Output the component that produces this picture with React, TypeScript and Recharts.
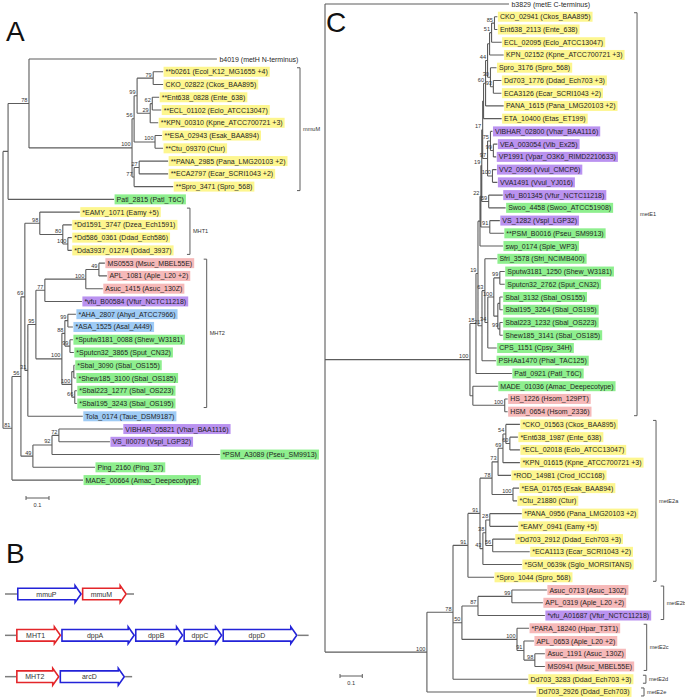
import { ComposedChart, Line, Scatter, XAxis, YAxis, BarChart, Bar } from 'recharts';

const FONT = '"Liberation Sans", Arial, Helvetica, sans-serif';
const PAGE_W = 685;
const PAGE_H = 699;
const LABEL_SIZE = 7;
const SMALL_SIZE = 5.6;
const LINE_COLOR = '#5c5c5c';

const HIGHLIGHT: Record<string, string> = {
  ent: '#fdf68f',
  vib: '#ba92f0',
  alt: '#8eef8e',
  pas: '#f6b9b9',
  aer: '#9ecbf5',
};

// ---------- panel A: MMT / MHT phylogeny (Newick, bootstrap as node labels) ----------
const mmuMClade =
  '((((b0261:0.043,CKO_02822:0.043)79:0.070,((Ent638_0828:0.030,ECL_01102:0.039)62:0.009,KPN_00310:0.035)29:0.057)99:0.013,(ESA_02943:0.030,Ctu_09370:0.035)100:0.091)56:0.009,((PANA_2985:0.126,ECA2797:0.126)27:0.022,Spro_3471:0.170)77:0.009)100:0.448';
const mht1Clade =
  '(EAMY_1071:0.174,(Dd1591_3747:0.039,(Dd586_0361:0.017,Dda3937_01274:0.017)100:0.022)80:0.100)98:0.065';
const mht2Pasteur =
  '(((MS0553:0.026,APL_1081:0.035)49:0.057,Asuc_1415:0.074)100:0.178,vfu_B00584:0.161)77:0.039';
const mht2Shew =
  '(((AHA_2807:0.035,ASA_1525:0.022)99:0.013,(Sputw3181_0088:0.013,Sputcn32_3865:0.017)99:0.022)88:0.013,((Sbal_3090:0.004,Shew185_3100:0.009):0.009,(Sbal223_1277:0.009,Sbal195_3243:0.009)66:0.013)100:0.043)100:0.113';
const vibrioA =
  '(((VIBHAR_05821:0.278,VS_II0079:0.222)72:0.030,PSM_A3089:0.730)92:0.083,Ping_2160:0.270)49:0.052';
const treeA = `(((b4019:0.817,${mmuMClade})78:0.091,Patl_2815:0.461):0.022,(((${mht1Clade},((${mht2Pasteur},${mht2Shew})95:0.035,Tola_0174:0.239)31:0.013)69:0.017,${vibrioA})56:0.039,MADE_00664:0.309)81:0.039);`;

const labelsA = [
  'b4019 (metH N-terminus)',
  '**b0261 (Ecol_K12_MG1655 +4)',
  'CKO_02822 (Ckos_BAA895)',
  '**Ent638_0828 (Ente_638)',
  '**ECL_01102 (Eclo_ATCC13047)',
  '**KPN_00310 (Kpne_ATCC700721 +3)',
  '**ESA_02943 (Esak_BAA894)',
  '**Ctu_09370 (Ctur)',
  '**PANA_2985 (Pana_LMG20103 +2)',
  '**ECA2797 (Ecar_SCRI1043 +2)',
  '**Spro_3471 (Spro_568)',
  'Patl_2815 (Patl_T6C)',
  '*EAMY_1071 (Eamy +5)',
  '*Dd1591_3747 (Dzea_Ech1591)',
  '*Dd586_0361 (Ddad_Ech586)',
  '*Dda3937_01274 (Ddad_3937)',
  'MS0553 (Msuc_MBEL55E)',
  'APL_1081 (Aple_L20 +2)',
  'Asuc_1415 (Asuc_130Z)',
  '*vfu_B00584 (Vfur_NCTC11218)',
  '*AHA_2807 (Ahyd_ATCC7966)',
  '*ASA_1525 (Asal_A449)',
  '*Sputw3181_0088 (Shew_W3181)',
  '*Sputcn32_3865 (Sput_CN32)',
  '*Sbal_3090 (Sbal_OS155)',
  '*Shew185_3100 (Sbal_OS185)',
  '*Sbal223_1277 (Sbal_OS223)',
  '*Sbal195_3243 (Sbal_OS195)',
  'Tola_0174 (Taue_DSM9187)',
  'VIBHAR_05821 (Vhar_BAA1116)',
  'VS_II0079 (Vspl_LGP32)',
  '*PSM_A3089 (Pseu_SM9913)',
  'Ping_2160 (Ping_37)',
  'MADE_00664 (Amac_Deepecotype)',
];
const groupsA = [
  '', 'ent', 'ent', 'ent', 'ent', 'ent', 'ent', 'ent', 'ent', 'ent', 'ent', 'alt',
  'ent', 'ent', 'ent', 'ent', 'pas', 'pas', 'pas', 'vib', 'aer', 'aer',
  'alt', 'alt', 'alt', 'alt', 'alt', 'alt', 'aer', 'vib', 'vib', 'alt', 'alt', 'alt',
];
const cladesA: [string, string, string][] = [
  ['mmuM', 'b0261', 'Spro_3471'],
  ['MHT1', 'EAMY_1071', 'Dda3937_01274'],
  ['MHT2', 'MS0553', 'Sbal195_3243'],
];

// ---------- panel C: MetE phylogeny ----------
const metE1Entero =
  '((((((CKO_02941:0.013,Ent638_2113:0.013)85:0.013,ECL_02095:0.045)51:0.009,KPN_02152:0.063):0.009,(Spro_3176:0.027,(Dd703_1776:0.036,ECA3126:0.036)93:0.013)30:0.013)44:0.009,PANA_1615:0.081)60:0.009,ETA_10400:0.081):0.004';
const metE1Vibrio =
  '((VIBHAR_02800:0.009,(VEA_003054:0.018,VP1991:0.013)99:0.013)75:0.013,(VV2_0996:0.018,VVA1491:0.022)100:0.022)97:0.022';
const metE1Shew =
  '(Sfri_3578:0.054,(((Sputw3181_1250:0.022,Sputcn32_2762:0.022)99:0.027,((Sbal_3132:0.013,Sbal195_3264:0.013):0.009,(Sbal223_1232:0.013,Shew185_3141:0.013)99:0.009):0.018)100:0.027,CPS_1151:0.040)34:0.013)63:0.013';
const metE1Vib2 = `((((${metE1Entero},${metE1Vibrio})17:0.004,(vfu_B01345:0.063,Swoo_4458:0.076)59:0.031)19:0.004,(VS_1282:0.045,PSM_B0016:0.063)91:0.040)22:0.004,swp_0174:0.103):0.009`;
const metE1 = `((((${metE1Vib2},(${metE1Shew},PSHAa1470:0.063)21:0.018)19:0.009,Patl_0921:0.161)18:0.027,(MADE_01036:0.112,(HS_1226:0.013,HSM_0654:0.013)100:0.143):0.013)100:0.498`;
const metE2aEntero =
  '((((CKO_01563:0.063,(Ent638_1987:0.036,ECL_02018:0.045)60:0.018)54:0.013,KPN_01615:0.076)69:0.022,ROD_14981:0.058)73:0.027,(ESA_01765:0.027,Ctu_21880:0.018)100:0.094)78:0.054';
const metE2aErwin =
  '(((PANA_0956:0.143,EAMY_0941:0.126)28:0.018,(Dd703_2912:0.099,ECA1113:0.166)56:0.031)38:0.013,SGM_0639k:0.175)43:0.013';
const metE2b = '((Asuc_0713:0.157,APL_0319:0.139)99:0.152,vfu_A01687:0.300)87:0.072';
const metE2c =
  '(PARA_18240:0.054,(APL_0653:0.045,(Asuc_1191:0.045,MS0941:0.045)98:0.049)91:0.031)100:0.247';
const metE2 = `((((${metE2aEntero},${metE2aErwin})91:0.054,Spro_1044:0.117)91:0.067,(${metE2b},${metE2c})50:0.040,Dd703_3283:0.336)78:0.117,Dd703_2926:0.489)100:0.457`;
const treeC = `((b3829:0.825,${metE1}):0.152,${metE2});`;

const labelsC = [
  'b3829 (metE C-terminus)',
  'CKO_02941 (Ckos_BAA895)',
  'Ent638_2113 (Ente_638)',
  'ECL_02095 (Eclo_ATCC13047)',
  'KPN_02152 (Kpne_ATCC700721 +3)',
  'Spro_3176 (Spro_568)',
  'Dd703_1776 (Ddad_Ech703 +3)',
  'ECA3126 (Ecar_SCRI1043 +2)',
  'PANA_1615 (Pana_LMG20103 +2)',
  'ETA_10400 (Etas_ET199)',
  'VIBHAR_02800 (Vhar_BAA1116)',
  'VEA_003054 (Vib_Ex25)',
  'VP1991 (Vpar_O3K6_RIMD2210633)',
  'VV2_0996 (Vvul_CMCP6)',
  'VVA1491 (Vvul_YJ016)',
  'vfu_B01345 (Vfur_NCTC11218)',
  'Swoo_4458 (Swoo_ATCC51908)',
  'VS_1282 (Vspl_LGP32)',
  '**PSM_B0016 (Pseu_SM9913)',
  'swp_0174 (Sple_WP3)',
  'Sfri_3578 (Sfri_NCIMB400)',
  'Sputw3181_1250 (Shew_W3181)',
  'Sputcn32_2762 (Sput_CN32)',
  'Sbal_3132 (Sbal_OS155)',
  'Sbal195_3264 (Sbal_OS195)',
  'Sbal223_1232 (Sbal_OS223)',
  'Shew185_3141 (Sbal_OS185)',
  'CPS_1151 (Cpsy_34H)',
  'PSHAa1470 (Phal_TAC125)',
  'Patl_0921 (Patl_T6C)',
  'MADE_01036 (Amac_Deepecotype)',
  'HS_1226 (Hsom_129PT)',
  'HSM_0654 (Hsom_2336)',
  '*CKO_01563 (Ckos_BAA895)',
  '*Ent638_1987 (Ente_638)',
  '*ECL_02018 (Eclo_ATCC13047)',
  '*KPN_01615 (Kpne_ATCC700721 +3)',
  '*ROD_14981 (Crod_ICC168)',
  '*ESA_01765 (Esak_BAA894)',
  '*Ctu_21880 (Ctur)',
  '*PANA_0956 (Pana_LMG20103 +2)',
  '*EAMY_0941 (Eamy +5)',
  '*Dd703_2912 (Ddad_Ech703 +3)',
  '*ECA1113 (Ecar_SCRI1043 +2)',
  '*SGM_0639k (Sglo_MORSITANS)',
  '*Spro_1044 (Spro_568)',
  'Asuc_0713 (Asuc_130Z)',
  'APL_0319 (Aple_L20 +2)',
  '*vfu_A01687 (Vfur_NCTC11218)',
  '*PARA_18240 (Hpar_T3T1)',
  'APL_0653 (Aple_L20 +2)',
  'Asuc_1191 (Asuc_130Z)',
  'MS0941 (Msuc_MBEL55E)',
  'Dd703_3283 (Ddad_Ech703 +3)',
  'Dd703_2926 (Ddad_Ech703)',
];
const groupsC = [
  '', 'ent', 'ent', 'ent', 'ent', 'ent', 'ent', 'ent', 'ent', 'ent',
  'vib', 'vib', 'vib', 'vib', 'vib', 'vib', 'alt', 'vib',
  'alt', 'alt', 'alt', 'alt', 'alt', 'alt', 'alt', 'alt', 'alt', 'alt', 'alt', 'alt', 'alt',
  'pas', 'pas',
  'ent', 'ent', 'ent', 'ent', 'ent', 'ent', 'ent', 'ent', 'ent', 'ent', 'ent', 'ent', 'ent',
  'pas', 'pas', 'vib', 'pas', 'pas', 'pas', 'pas', 'ent', 'ent',
];
const cladesC: [string, string, string][] = [
  ['metE1', 'CKO_02941', 'HSM_0654'],
  ['metE2a', 'CKO_01563', 'Spro_1044'],
  ['metE2b', 'Asuc_0713', 'vfu_A01687'],
  ['metE2c', 'PARA_18240', 'MS0941'],
  ['metE2d', 'Dd703_3283', 'Dd703_3283'],
  ['metE2e', 'Dd703_2926', 'Dd703_2926'],
];

// ---------- panel B: gene neighbourhoods (bp) ----------
const operonNames = ['mmuPM', 'MHT1-dpp', 'MHT2-arcD'];
const geneNames = [['mmuP', 'mmuM'], ['MHT1', 'dppA', 'dppB', 'dppC', 'dppD'], ['MHT2', 'arcD']];
const geneBp = [[1380, 960], [960, 1570, 1030, 830, 1600], [925, 1395]];
const flankBp = [[255, 150], [235, 235], [235, 150]];
const methyltransferases = ['mmuM', 'MHT1', 'MHT2'];

// ---------- helpers ----------
interface TNode { name: string; len: number; children: TNode[] }

function parseNewick(src: string): TNode {
  let i = 0;
  const read = (): TNode => {
    const node: TNode = { name: '', len: 0, children: [] };
    if (src[i] === '(') {
      i++;
      node.children.push(read());
      while (src[i] === ',') {
        i++;
        node.children.push(read());
      }
      i++;
    }
    let name = '';
    while (i < src.length && !':,);'.includes(src[i])) name += src[i++];
    node.name = name.trim();
    if (src[i] === ':') {
      i++;
      let num = '';
      while (i < src.length && !',);'.includes(src[i])) num += src[i++];
      node.len = parseFloat(num);
    }
    return node;
  };
  return read();
}

type Pt = { x: number; y: number | null };

function layoutTree(newick: string) {
  const root = parseNewick(newick);
  const leaves: { x: number; y: number; id: string }[] = [];
  const support: { x: number; y: number; label: string }[] = [];
  const lines: Pt[] = [];
  let row = 0;
  const place = (n: TNode, parentDepth: number): number => {
    const depth = parentDepth + n.len;
    let y: number;
    if (!n.children.length) {
      y = row++;
      leaves.push({ x: depth, y, id: n.name });
    } else {
      const ys = n.children.map((c) => place(c, depth));
      y = (ys[0] + ys[ys.length - 1]) / 2;
      lines.push({ x: depth, y: ys[0] }, { x: depth, y: ys[ys.length - 1] }, { x: depth, y: null });
      if (n.name) support.push({ x: depth, y, label: n.name });
    }
    if (n !== root) lines.push({ x: parentDepth, y }, { x: depth, y }, { x: depth, y: null });
    return y;
  };
  place(root, 0);
  return { leaves, support, lines };
}

let measureCtx: CanvasRenderingContext2D | null = null;
function textWidth(t: string, size: number) {
  if (!measureCtx) measureCtx = document.createElement('canvas').getContext('2d');
  if (!measureCtx) return t.length * size * 0.5;
  measureCtx.font = `${size}px "Liberation Sans"`;
  return measureCtx.measureText(t).width;
}

const leafId = (label: string) => label.replace(/^\*+/, '').split(' ')[0];

interface TreeProps {
  newick: string;
  labels: string[];
  groups: string[];
  clades: [string, string, string][];
  rootPx: number;
  topPx: number;
  rowPx: number;
  unitPx: number;
  barPx: [number, number];
}

function TreePanel({ newick, labels, groups, clades, rootPx, topPx, rowPx, unitPx, barPx }: TreeProps) {
  const { leaves, support, lines } = layoutTree(newick);
  const info = new Map(labels.map((l, k) => [leafId(l), { label: l, group: groups[k] }]));
  const leafData = leaves.map((lf) => ({ ...lf, ...(info.get(lf.id) ?? { label: lf.id, group: '' }) }));
  const dx = (px: number) => px / unitPx;
  const dy = (px: number) => px / rowPx;

  const bracketLines: Pt[] = [];
  const bracketText: { x: number; y: number; label: string }[] = [];
  clades.forEach(([name, from, to]) => {
    const r1 = leafData.find((l) => l.id === from)?.y ?? 0;
    const r2 = leafData.find((l) => l.id === to)?.y ?? r1;
    const inside = leafData.filter((l) => l.y >= r1 && l.y <= r2);
    const right = Math.max(...inside.map((l) => l.x + dx(textWidth(l.label, LABEL_SIZE) + 5)));
    const bx = right + dx(12);
    const t = r1 - dy(4);
    const b = r2 + dy(4);
    bracketLines.push(
      { x: bx - dx(3), y: t }, { x: bx, y: t }, { x: bx, y: b }, { x: bx - dx(3), y: b }, { x: bx, y: null },
    );
    bracketText.push({ x: bx, y: (r1 + r2) / 2, label: name });
  });

  const sx = (barPx[0] - rootPx) / unitPx;
  const sy = (barPx[1] - topPx) / rowPx;
  const scaleLines: Pt[] = [
    { x: sx, y: sy }, { x: sx + 0.1, y: sy }, { x: sx + 0.1, y: null },
    { x: sx, y: sy - dy(2) }, { x: sx, y: sy + dy(2) }, { x: sx, y: null },
    { x: sx + 0.1, y: sy - dy(2) }, { x: sx + 0.1, y: sy + dy(2) },
  ];
  const scaleText = [{ x: sx + 0.05, y: sy, label: '0.1' }];

  const xDomain = [-rootPx / unitPx, (PAGE_W - rootPx) / unitPx];
  const yDomain = [-topPx / rowPx, (PAGE_H - topPx) / rowPx];

  const leafShape = (p: any) => {
    const { cx, cy, payload } = p;
    const w = textWidth(payload.label, LABEL_SIZE);
    const fill = HIGHLIGHT[payload.group];
    return (
      <g>
        {fill && <rect x={cx + 0.5} y={cy - 5} width={w + 4} height={10} fill={fill} />}
        <text x={cx + 2.5} y={cy + 2.5} fontSize={LABEL_SIZE} fontFamily={FONT} fill="#1f1f1f">
          {payload.label}
        </text>
      </g>
    );
  };
  const supportShape = (p: any) => (
    <text x={p.cx - 1.5} y={p.cy - 1.5} textAnchor="end" fontSize={SMALL_SIZE} fontFamily={FONT} fill="#333">
      {p.payload.label}
    </text>
  );
  const bracketShape = (p: any) => (
    <text x={p.cx + 3} y={p.cy + 2} fontSize={SMALL_SIZE} fontFamily={FONT} fill="#333">
      {p.payload.label}
    </text>
  );
  const scaleShape = (p: any) => (
    <text x={p.cx} y={p.cy + 9} textAnchor="middle" fontSize={SMALL_SIZE} fontFamily={FONT} fill="#333">
      {p.payload.label}
    </text>
  );

  return (
    <div style={{ position: 'absolute', left: 0, top: 0 }}>
      <ComposedChart width={PAGE_W} height={PAGE_H} margin={{ top: 0, right: 0, bottom: 0, left: 0 }}>
        <XAxis type="number" dataKey="x" hide domain={xDomain} allowDataOverflow />
        <YAxis type="number" dataKey="y" hide reversed domain={yDomain} allowDataOverflow />
        <Line data={lines} dataKey="y" stroke={LINE_COLOR} strokeWidth={1.1} dot={false} activeDot={false}
          isAnimationActive={false} connectNulls={false} />
        <Line data={bracketLines} dataKey="y" stroke={LINE_COLOR} strokeWidth={1} dot={false} activeDot={false}
          isAnimationActive={false} connectNulls={false} />
        <Line data={scaleLines} dataKey="y" stroke={LINE_COLOR} strokeWidth={1} dot={false} activeDot={false}
          isAnimationActive={false} connectNulls={false} />
        <Scatter data={leafData} shape={leafShape} isAnimationActive={false} />
        <Scatter data={support} shape={supportShape} isAnimationActive={false} />
        <Scatter data={bracketText} shape={bracketShape} isAnimationActive={false} />
        <Scatter data={scaleText} shape={scaleShape} isAnimationActive={false} />
      </ComposedChart>
    </div>
  );
}

const MAX_SEG = Math.max(...geneNames.map((g) => g.length)) + 2;
const operonRows = operonNames.map((name, r) => {
  const segs = [flankBp[r][0], ...geneBp[r], flankBp[r][1]];
  const row: Record<string, string | number> = { operon: name };
  for (let k = 0; k < MAX_SEG; k++) row['s' + k] = segs[k] ?? 0;
  return row;
});

const segmentShape = (k: number) => (p: any) => {
  const { x, y, width, height, payload } = p;
  const r = operonNames.indexOf(payload.operon);
  const genes = geneNames[r] ?? [];
  if (k > genes.length + 1 || !width) return <g />;
  const cy = y + height / 2;
  if (k === 0 || k === genes.length + 1) {
    return <line x1={x} x2={x + width} y1={cy} y2={cy} stroke="#7d7d7d" strokeWidth={1.5} />;
  }
  const gene = genes[k - 1];
  const color = methyltransferases.includes(gene) ? '#e3262a' : '#2323d8';
  const head = 6;
  const body = 5.8;
  const half = height / 2 - 0.5;
  const xe = x + width - 0.8;
  const xh = xe - head;
  const x0 = x + 0.8;
  const pts = [
    [x0, cy - body], [xh, cy - body], [xh, cy - half], [xe, cy], [xh, cy + half], [xh, cy + body], [x0, cy + body],
  ].map((q) => q.join(',')).join(' ');
  return (
    <g>
      <polygon points={pts} fill="#fff" stroke={color} strokeWidth={1.6} />
      <text x={x0 + (xh - x0) / 2} y={cy + 2.5} textAnchor="middle" fontSize={7} fontFamily={FONT} fill="#333">
        {gene}
      </text>
    </g>
  );
};

function GenePanel() {
  const width = 330;
  const pxPerBp = 0.047;
  return (
    <div style={{ position: 'absolute', left: 5, top: 573 }}>
      <BarChart width={width} height={124} data={operonRows} layout="vertical"
        margin={{ top: 0, right: 0, bottom: 0, left: 0 }}>
        <XAxis type="number" hide domain={[0, width / pxPerBp]} allowDataOverflow />
        <YAxis type="category" dataKey="operon" hide />
        {Array.from({ length: MAX_SEG }, (_, k) => (
          <Bar key={k} dataKey={'s' + k} stackId="op" barSize={18} shape={segmentShape(k)} isAnimationActive={false} />
        ))}
      </BarChart>
    </div>
  );
}

export default function App() {
  return (
    <div style={{ position: 'absolute', left: 0, top: 0, width: PAGE_W, height: PAGE_H, background: '#fff', fontFamily: FONT }}>
      <TreePanel newick={treeA} labels={labelsA} groups={groupsA} clades={cladesA}
        rootPx={3} topPx={59} rowPx={12.76} unitPx={230} barPx={[26, 498]} />
      <TreePanel newick={treeC} labels={labelsC} groups={groupsC} clades={cladesC}
        rootPx={325} topPx={4} rowPx={12.74} unitPx={223} barPx={[340, 676]} />
      <GenePanel />
      <svg width={PAGE_W} height={PAGE_H} style={{ position: 'absolute', left: 0, top: 0, pointerEvents: 'none' }}>
        <text x={6} y={41} fontSize={28} fontFamily={FONT} fill="#111">A</text>
        <text x={6} y={563} fontSize={28} fontFamily={FONT} fill="#111">B</text>
        <text x={326} y={32} fontSize={28} fontFamily={FONT} fill="#111">C</text>
      </svg>
    </div>
  );
}
